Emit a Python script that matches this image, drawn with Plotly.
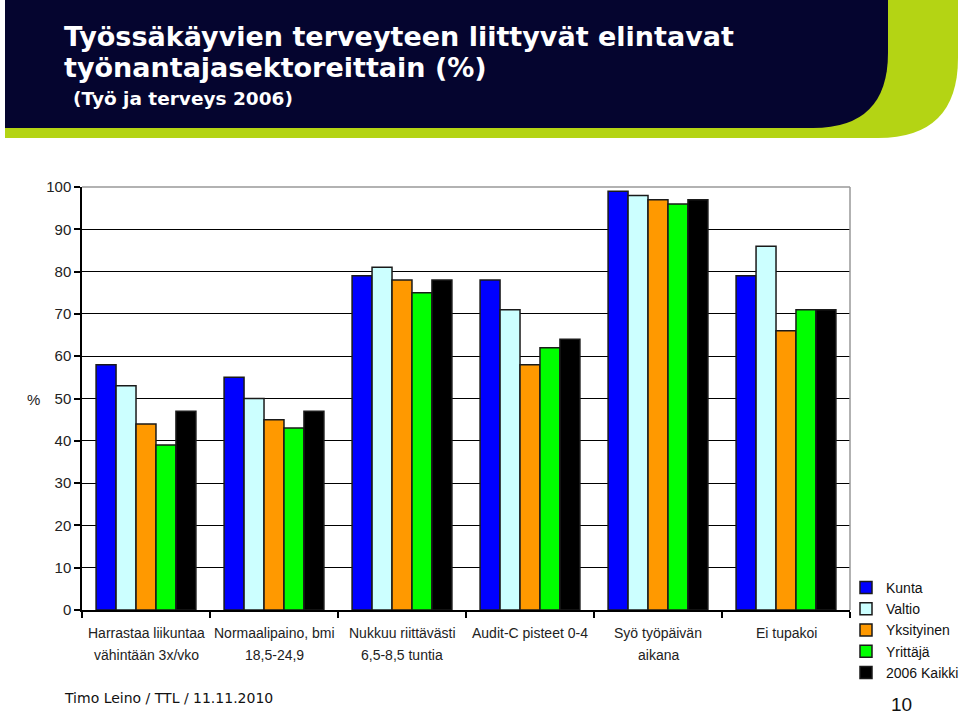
import plotly.graph_objects as go

categories = ["Harrastaa liikuntaa<br>vähintään 3x/vko", "Normaalipaino, bmi<br>18,5-24,9",
              "Nukkuu riittävästi<br>6,5-8,5 tuntia", "Audit-C pisteet 0-4",
              "Syö työpäivän<br>aikana", "Ei tupakoi"]
series_names = ["Kunta", "Valtio", "Yksityinen", "Yrittäjä", "2006 Kaikki"]
kunta = [58, 55, 79, 78, 99, 79]
valtio = [53, 50, 81, 71, 98, 86]
yksityinen = [44, 45, 78, 58, 97, 66]
yrittaja = [39, 43, 75, 62, 96, 71]
kaikki = [47, 47, 78, 64, 97, 71]
colors = ["#0000FF", "#CCFFFF", "#FF9900", "#00FF00", "#000000"]
yticks = list(range(0, 101, 10))

W, H = 960, 716
L, R, T, B = 82, 850, 187, 610


def px(x):
    return (x - L) / (R - L)


def py(y):
    return (B - y) / (B - T)


fig = go.Figure()
for name, vals, col in zip(series_names, [kunta, valtio, yksityinen, yrittaja, kaikki], colors):
    fig.add_trace(go.Bar(x=categories, y=vals, name=name, marker_color=col,
                         marker_line_color="#1a1a1a", marker_line_width=1.5))


def rounded_path(x0, y0, x1, y1, r):
    pts = [f"M {px(x0)} {py(y0)}", f"L {px(x1)} {py(y0)}", f"L {px(x1)} {py(y1 - r)}",
           f"Q {px(x1)} {py(y1)} {px(x1 - r)} {py(y1)}", f"L {px(x0)} {py(y1)}", "Z"]
    return " ".join(pts)


shapes = [
    dict(type="path", xref="paper", yref="paper", path=rounded_path(5, 0, 958, 138, 80),
         fillcolor="#B4D414", line_width=0, layer="below"),
    dict(type="path", xref="paper", yref="paper", path=rounded_path(5, 0, 888, 128, 75),
         fillcolor="#05052F", line_width=0, layer="below"),
    dict(type="line", xref="paper", yref="paper", x0=0, x1=1, y0=1, y1=1,
         line=dict(color="#999999", width=1.5), layer="above"),
    dict(type="line", xref="paper", yref="paper", x0=1, x1=1, y0=0, y1=1,
         line=dict(color="#999999", width=1.5), layer="above"),
]

title_font = dict(family="DejaVu Sans", size=27, color="white")
annotations = [
    dict(text="<b>Työssäkäyvien terveyteen liittyvät elintavat</b>",
         x=px(62), y=py(37), xref="paper", yref="paper", xanchor="left", yanchor="middle",
         showarrow=False, font=title_font),
    dict(text="<b>työnantajasektoreittain (%)</b>",
         x=px(62), y=py(68), xref="paper", yref="paper", xanchor="left", yanchor="middle",
         showarrow=False, font=title_font),
    dict(text="<b>(Työ ja terveys 2006)</b>", x=px(71), y=py(98), xref="paper", yref="paper",
         xanchor="left", yanchor="middle", showarrow=False,
         font=dict(family="DejaVu Sans", size=18.5, color="white")),
    dict(text="%", x=px(33), y=py(399), xref="paper", yref="paper", xanchor="center",
         yanchor="middle", showarrow=False,
         font=dict(family="Liberation Sans", size=15, color="#222")),
    dict(text="Timo Leino / TTL / 11.11.2010", x=px(62), y=py(698), xref="paper", yref="paper",
         xanchor="left", yanchor="middle", showarrow=False,
         font=dict(family="DejaVu Sans", size=14, color="#111")),
    dict(text="10", x=px(901), y=py(716), xref="paper", yref="paper", xanchor="center",
         yanchor="bottom", showarrow=False, borderpad=0,
         font=dict(family="Liberation Sans", size=19, color="#111")),
]

# category labels, two lines each with the reference's wider line spacing
for cat in categories:
    for i, line in enumerate(cat.split("<br>")):
        annotations.append(dict(text=line, x=cat, xref="x", y=py(633 + 22 * i), yref="paper",
                                xanchor="center", yanchor="middle", showarrow=False,
                                font=dict(family="Liberation Sans", size=14, color="#222")))

fig.update_layout(
    width=W, height=H,
    margin=dict(l=L, r=W - R, t=T, b=H - B, pad=0, autoexpand=False),
    paper_bgcolor="white", plot_bgcolor="white",
    barmode="group", bargap=0.22, bargroupgap=0,
    font=dict(family="Liberation Sans", size=14, color="#222"),
    showlegend=True,
    legend=dict(xref="container", yref="container", x=846 / W, y=1 - 572 / H,
                xanchor="left", yanchor="top",
                font=dict(family="Liberation Sans", size=14, color="#111"),
                bgcolor="rgba(0,0,0,0)", itemwidth=30, tracegroupgap=0),
    shapes=shapes, annotations=annotations,
    xaxis=dict(showline=True, linecolor="black", linewidth=1.5, ticks="outside",
               tickson="boundaries", ticklen=6, tickcolor="black", tickwidth=1.5, tickangle=0,
               showticklabels=False, showgrid=False),
    yaxis=dict(range=[0, 100], tickvals=yticks, showline=True, linecolor="black", linewidth=1.5,
               ticks="outside", ticklen=6, tickcolor="black", tickwidth=1.5, showgrid=True,
               gridcolor="black", gridwidth=1, zeroline=False,
               tickfont=dict(family="Liberation Sans", size=15, color="#222")),
)

fig.write_html("out.html")
